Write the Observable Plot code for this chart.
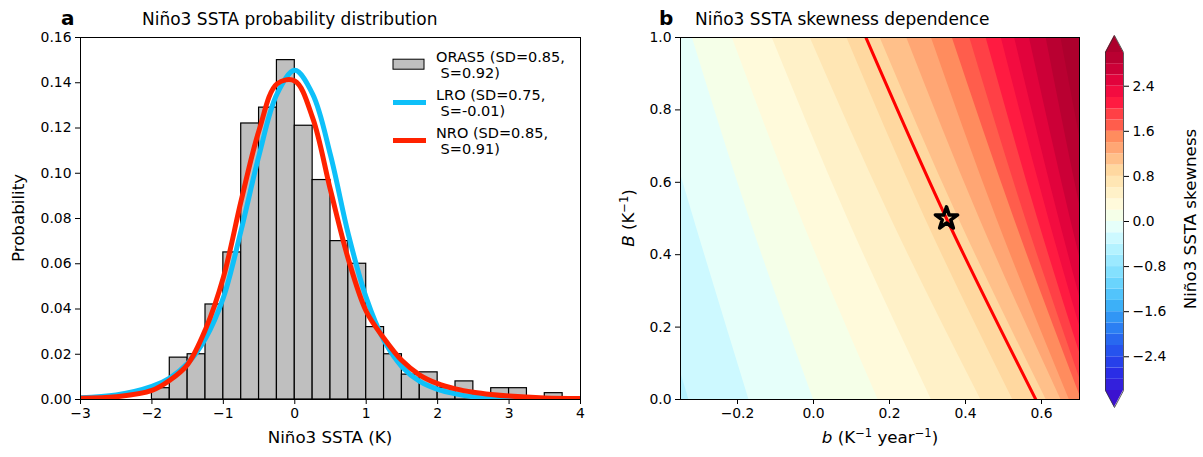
<!DOCTYPE html>
<html><head><meta charset="utf-8">
<script src="https://cdn.jsdelivr.net/npm/d3@7"></script>
<script src="https://cdn.jsdelivr.net/npm/@observablehq/plot@0.6"></script>
<style>
body{margin:0;background:#fff}
#root{position:relative;width:1203px;height:457px;overflow:hidden;font-family:"DejaVu Sans",sans-serif}
#root > svg{position:absolute;top:0}
</style></head><body><div id="root"></div>
<script>
// ---------- Panel a data ----------
const binStart = [-2,-1.75,-1.5,-1.25,-1,-0.75,-0.5,-0.25,0,0.25,0.5,0.75,1,1.25,1.5,1.75,2,2.25,2.5,2.75,3,3.25,3.5];
const binWidth = 0.25;
const oras5Prob = [0.005,0.0185,0.020,0.042,0.065,0.122,0.129,0.150,0.121,0.097,0.070,0.060,0.032,0.020,0.011,0.012,0.005,0.008,0.0027,0.005,0.005,0,0.0028];
const curveX  = [-3,-2.5,-2,-1.75,-1.5,-1.25,-1,-0.75,-0.5,-0.25,0,0.25,0.5,0.75,1,1.25,1.5,1.75,2,2.25,2.5,2.75,3,3.5,4];
const lroProb = [0.0008,0.002,0.0058,0.0095,0.016,0.027,0.045,0.075,0.108,0.135,0.1455,0.135,0.108,0.073,0.045,0.026,0.0145,0.008,0.0045,0.0025,0.0012,0.0006,0.0003,0.0001,0];
const nroProb = [0.0005,0.0012,0.004,0.0085,0.0155,0.031,0.054,0.088,0.119,0.1395,0.1408,0.1245,0.0925,0.062,0.039,0.027,0.0172,0.0108,0.007,0.0047,0.0032,0.0022,0.0015,0.0007,0.0004];
const xTicksA = [-3,-2,-1,0,1,2,3,4];
const yTicksA = [0,0.02,0.04,0.06,0.08,0.10,0.12,0.14,0.16];
const legendLabels = [["ORAS5 (SD=0.85,"," S=0.92)"],["LRO (SD=0.75,"," S=-0.01)"],["NRO (SD=0.85,"," S=0.91)"]];

// ---------- Panel b data ----------
const bDomain = [-0.35, 0.7];
const BDomain = [0, 1];
const levels = [-3,-2.8,-2.6,-2.4,-2.2,-2,-1.8,-1.6,-1.4,-1.2,-1,-0.8,-0.6,-0.4,-0.2,0,0.2,0.4,0.6,0.8,1,1.2,1.4,1.6,1.8,2,2.2,2.4,2.6,2.8,3];
const bandColors = ["#3b12cf","#3320dc","#2a2de6","#2740ea","#2653ee","#2868f0","#2b7ff3","#3196f5","#3cb0f8","#52c4fb","#6ad4fd","#84e0fe","#9ce9ff","#b4f2ff","#cdf9ff","#e6fffa","#f5ffe8","#fffadb","#fff1c8","#ffe6b4","#ffd8a0","#ffc08a","#ffa674","#ff8c5e","#ff5d4c","#ff4046","#ff1b41","#f30c40","#e2033c","#cc0037","#b90031","#ad002d"];
const contourLevels = [-0.4,-0.2,0,0.2,0.4,0.6,0.8,1.0,1.2,1.4,1.6,1.8,2.0,2.2,2.4,2.6,2.8,3.0];
const Bsamples = [0, 0.5, 1];
const contourAtB0   = [-0.328,-0.170,0.000,0.170,0.310,0.440,0.524,0.612,0.651,0.673,0.705,0.720,0.740,0.758,0.775,0.795,0.815,0.845];
const contourAtBmid = [-0.470,-0.315,-0.168,-0.032,0.090,0.204,0.294,0.382,0.437,0.482,0.528,0.558,0.590,0.619,0.646,0.676,0.708,0.743];
const contourAtB1   = [-0.600,-0.455,-0.319,-0.214,-0.109,-0.009,0.0875,0.175,0.245,0.310,0.365,0.411,0.454,0.494,0.529,0.568,0.612,0.651];
const redContour = [0.585, 0.350, 0.138]; // S = 0.92 at B = 0, 0.5, 1
const star = {b: 0.35, B: 0.5};
const xTicksB = [-0.2,0,0.2,0.4,0.6];
const yTicksB = [0,0.2,0.4,0.6,0.8,1.0];
const cbTicks = [-2.4,-1.6,-0.8,0,0.8,1.6,2.4];
const cbExtend = 0.3;

const FONT = "DejaVu Sans";
const baseStyle = {fontFamily: FONT, fontSize: "13.9px", color: "black", background: "transparent", overflow: "visible"};
const colorOpts = {type: "threshold", domain: levels, range: bandColors};
const root = document.getElementById("root");

// ---------- Panel a ----------
const hist = binStart.map((s,i)=>({x1:s, x2:s+binWidth, p:oras5Prob[i]})).filter(d=>d.p>0);
const lro = curveX.map((x,i)=>({x, p:lroProb[i]}));
const nro = curveX.map((x,i)=>({x, p:nroProb[i]}));
const LRO_C = "#0ec0f9", NRO_C = "#ff2200";

const left = Plot.plot({
  width: 600, height: 457, marginLeft: 80, marginRight: 20, marginTop: 37, marginBottom: 58,
  style: baseStyle,
  x: {domain: [-3, 4]}, y: {domain: [0, 0.16]},
  marks: [
    Plot.rectY(hist, {x1:"x1", x2:"x2", y:"p", fill:"#bfbfbf", stroke:"black", strokeWidth:1.2}),
    Plot.line(lro, {x:"x", y:"p", stroke:LRO_C, strokeWidth:5, curve:"catmull-rom", clip:true}),
    Plot.line(nro, {x:"x", y:"p", stroke:NRO_C, strokeWidth:5, curve:"catmull-rom", clip:true}),
    Plot.frame({stroke:"black", strokeWidth:1}),
    Plot.axisX({ticks: xTicksA, tickFormat: d3.format("d"), tickSize:5, tickPadding:4, label:null}),
    Plot.axisY({ticks: yTicksA, tickFormat: d3.format(".2f"), tickSize:5, tickPadding:4, label:null})
  ]
});
left.style.left = "0px";
root.appendChild(left);

// ---------- Panel b ----------
const cols = [contourAtB0, contourAtBmid, contourAtB1];
const contourMarks = contourLevels.map((lev,k) => {
  const data = Bsamples.map((B,j)=>({B, b: cols[j][k]}));
  return Plot.areaX(data, {y:"B", x1:"b", x2: () => bDomain[1] + 0.3, fill: () => lev + 0.1, curve:"natural", clip:true});
});
const redLine = Bsamples.map((B,j)=>({B, b: redContour[j]}));

const right = Plot.plot({
  width: 500, height: 457, marginLeft: 80, marginRight: 21, marginTop: 37, marginBottom: 58,
  style: baseStyle,
  x: {domain: bDomain}, y: {domain: BDomain},
  color: colorOpts,
  marks: [
    Plot.rect([0], {x1: () => bDomain[0], x2: () => bDomain[1], y1: () => BDomain[0], y2: () => BDomain[1], fill: () => contourLevels[0] - 0.1}),
    ...contourMarks,
    Plot.line(redLine, {x:"b", y:"B", stroke:"#ff0000", strokeWidth:3, curve:"natural", clip:true}),
    Plot.dot([star], {x:"b", y:"B", symbol:"star", r:7, fill:"none", stroke:"black", strokeWidth:3.5, strokeLinejoin:"round"}),
    Plot.frame({stroke:"black", strokeWidth:1}),
    Plot.axisX({ticks: xTicksB, tickFormat: d3.format(".1f"), tickSize:5, tickPadding:4, label:null}),
    Plot.axisY({ticks: yTicksB, tickFormat: d3.format(".1f"), tickSize:5, tickPadding:4, label:null})
  ]
});
right.style.left = "600px";
root.appendChild(right);

// ---------- Colorbar ----------
const lo = levels[0], hi = levels[levels.length-1];
const bands = levels.slice(0,-1).map((l,i)=>({y1:l, y2:levels[i+1], v:(l+levels[i+1])/2}));
const topTri = [{x:0,y1:hi,y2:hi},{x:0.5,y1:hi,y2:hi+cbExtend},{x:1,y1:hi,y2:hi}];
const botTri = [{x:0,y1:lo,y2:lo},{x:0.5,y1:lo,y2:lo-cbExtend},{x:1,y1:lo,y2:lo}];
const outline = [{x:0,y:hi},{x:0.5,y:hi+cbExtend},{x:1,y:hi},{x:1,y:lo},{x:0.5,y:lo-cbExtend},{x:0,y:lo},{x:0,y:hi}];
const cbar = Plot.plot({
  width: 113, height: 457, marginLeft: 15, marginRight: 80, marginTop: 35, marginBottom: 50,
  style: baseStyle,
  x: {domain: [0,1], axis: null}, y: {domain: [lo - cbExtend, hi + cbExtend]},
  color: colorOpts,
  marks: [
    Plot.rect(bands, {x1: () => 0, x2: () => 1, y1:"y1", y2:"y2", fill:"v"}),
    Plot.areaY(topTri, {x:"x", y1:"y1", y2:"y2", fill: () => hi + 0.1}),
    Plot.areaY(botTri, {x:"x", y1:"y1", y2:"y2", fill: () => lo - 0.1}),
    Plot.line(outline, {x:"x", y:"y", stroke:"#333", strokeWidth:0.8}),
    Plot.axisY({anchor:"right", ticks: cbTicks, tickFormat: d3.format(".1f"), tickSize:5, tickPadding:4, label:null})
  ]
});
cbar.style.left = "1090px";
root.appendChild(cbar);

// ---------- Overlay: titles, labels, legend ----------
const svg = d3.create("svg").attr("width",1203).attr("height",457)
  .style("left","0px").style("pointer-events","none")
  .attr("font-family", FONT).attr("fill","black");

function txt(x, y, s, opts={}) {
  const t = svg.append("text").attr("x", x).attr("y", y).attr("font-size", opts.size || 16.7)
    .attr("text-anchor", opts.anchor || "start").text(s);
  if (opts.weight) t.attr("font-weight", opts.weight);
  if (opts.rotate) t.attr("x", null).attr("y", null).attr("transform", `translate(${x},${y}) rotate(-90)`);
  return t;
}
txt(61, 25, "a", {size: 20, weight: "bold"});
txt(142, 25, "Niño3 SSTA probability distribution", {size: 17});
txt(659, 25, "b", {size: 20, weight: "bold"});
txt(695, 25, "Niño3 SSTA skewness dependence", {size: 17});
txt(24, 218, "Probability", {anchor: "middle", rotate: true});
txt(330, 443, "Niño3 SSTA (K)", {anchor: "middle"});
txt(1196, 219, "Niño3 SSTA skewness", {anchor: "middle", rotate: true});

// right y label: B (K^-1)
{
  const t = svg.append("text").attr("transform","translate(634,218) rotate(-90)")
    .attr("text-anchor","middle").attr("font-size",16.7);
  t.append("tspan").attr("font-style","italic").text("B");
  t.append("tspan").text(" (K");
  t.append("tspan").attr("dy",-6).attr("font-size",11.5).text("−1");
  t.append("tspan").attr("dy",6).text(")");
}
// right x label: b (K^-1 year^-1)
{
  const t = svg.append("text").attr("x",880).attr("y",443)
    .attr("text-anchor","middle").attr("font-size",16.7);
  t.append("tspan").attr("font-style","italic").text("b");
  t.append("tspan").text(" (K");
  t.append("tspan").attr("dy",-6).attr("font-size",11.5).text("−1");
  t.append("tspan").attr("dy",6).text(" year");
  t.append("tspan").attr("dy",-6).attr("font-size",11.5).text("−1");
  t.append("tspan").attr("dy",6).text(")");
}

// legend
const legX = 393, legW = 32, legTx = 436;
const legCenters = [64.2, 102.5, 140.5];
svg.append("rect").attr("x",legX).attr("y",legCenters[0]-5).attr("width",legW-1).attr("height",10)
  .attr("fill","#bfbfbf").attr("stroke","black").attr("stroke-width",1);
[[1, LRO_C],[2, NRO_C]].forEach(([i,c]) => {
  svg.append("line").attr("x1",legX).attr("x2",legX+legW+1).attr("y1",legCenters[i]).attr("y2",legCenters[i])
    .attr("stroke",c).attr("stroke-width",5);
});
legendLabels.forEach((lines,i) => {
  lines.forEach((s,j) => {
    svg.append("text").attr("x",legTx).attr("y",legCenters[i] - 2.6 + j*16)
      .attr("font-size",14.5).attr("xml:space","preserve").style("white-space","pre").text(s);
  });
});
root.appendChild(svg.node());
</script></body></html>
